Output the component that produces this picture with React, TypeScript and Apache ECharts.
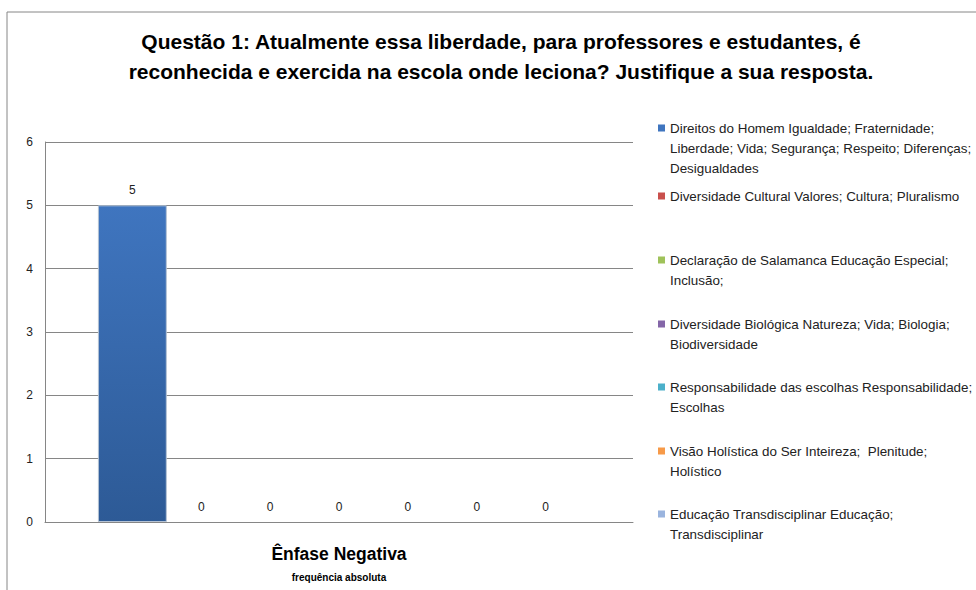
import React, { useEffect, useRef } from "react";
import * as echarts from "echarts";

const TITLE_LINES = [
  "Questão 1: Atualmente essa liberdade, para professores e estudantes, é",
  "reconhecida e exercida na escola onde leciona? Justifique a sua resposta.",
];
const CATEGORIES = ["Ênfase Negativa"];
const X_AXIS_NAME = "frequência absoluta";
const SERIES_NAMES = [
  "Direitos do Homem Igualdade; Fraternidade; Liberdade; Vida; Segurança; Respeito; Diferenças; Desigualdades",
  "Diversidade Cultural Valores; Cultura; Pluralismo",
  "Declaração de Salamanca Educação Especial; Inclusão;",
  "Diversidade Biológica Natureza; Vida; Biologia; Biodiversidade",
  "Responsabilidade das escolhas Responsabilidade; Escolhas",
  "Visão Holística do Ser Inteireza;  Plenitude; Holístico",
  "Educação Transdisciplinar Educação; Transdisciplinar",
];
const LEGEND_LINES = [
  ["Direitos do Homem Igualdade; Fraternidade;", "Liberdade; Vida; Segurança; Respeito; Diferenças;", "Desigualdades"],
  ["Diversidade Cultural Valores; Cultura; Pluralismo"],
  ["Declaração de Salamanca Educação Especial;", "Inclusão;"],
  ["Diversidade Biológica Natureza; Vida; Biologia;", "Biodiversidade"],
  ["Responsabilidade das escolhas Responsabilidade;", "Escolhas"],
  ["Visão Holística do Ser Inteireza;  Plenitude;", "Holístico"],
  ["Educação Transdisciplinar Educação;", "Transdisciplinar"],
];
const SERIES_VALUES = [5, 0, 0, 0, 0, 0, 0];
const Y_MIN = 0;
const Y_MAX = 6;
const Y_INTERVAL = 1;

const COLORS = [
  ["#3f75bf", "#2d5a96"],
  ["#c9504c", "#9c2f2c"],
  ["#9fc25a", "#76963a"],
  ["#8466a8", "#5f4680"],
  ["#4cb0ca", "#2d8aa2"],
  ["#f79a48", "#d06f1e"],
  ["#9ab4de", "#7090c4"],
];

const FONT = "'Liberation Sans', Arial, sans-serif";
const LEGEND_CENTERS = [128, 196, 260, 324, 387, 451, 514];
const LINE_H = 20;

export default function App() {
  const ref = useRef<HTMLDivElement>(null);
  useEffect(() => {
    if (!ref.current) return;
    const chart = echarts.init(ref.current, undefined, { renderer: "svg" });
    const series = SERIES_NAMES.map((name, i) => ({
      name,
      type: "bar",
      data: [SERIES_VALUES[i]],
      barGap: "0%",
      barCategoryGap: "18%",
      itemStyle: {
        color: new echarts.graphic.LinearGradient(0, 0, 0, 1, [
          { offset: 0, color: COLORS[i][0] },
          { offset: 1, color: COLORS[i][1] },
        ]),
        borderColor: "#b4c2d4",
        borderWidth: SERIES_VALUES[i] > 0 ? 1 : 0,
      },
      label: {
        show: true,
        position: "top",
        distance: 9,
        color: "#222",
        fontSize: 12,
        fontFamily: FONT,
      },
    }));
    const legends = SERIES_NAMES.map((name, i) => {
      const n = LEGEND_LINES[i].length;
      const h = 7 + LINE_H * (n - 1);
      const icon = `path://M0,0L7,0L7,7L0,7Z M0,${h}L7,${h}`;
      return {
        data: [
          {
            name,
            icon,
            itemStyle: { color: COLORS[i][0], borderWidth: 0, borderColor: "transparent" },
          },
        ],
        orient: "vertical",
        left: 658,
        top: LEGEND_CENTERS[i] - 10,
        padding: 0,
        itemWidth: 7,
        itemHeight: h,
        itemGap: 0,
        symbolKeepAspect: false,
        selectedMode: false,
        formatter: () => LEGEND_LINES[i].join("\n"),
        textStyle: {
          fontSize: 13.4,
          lineHeight: LINE_H,
          color: "#222",
          fontFamily: FONT,
        },
      };
    });
    chart.setOption({
      animation: false,
      backgroundColor: "#ffffff",
      title: {
        text: TITLE_LINES.join("\n"),
        left: 496,
        textAlign: "center",
        top: 21,
        textStyle: {
          fontSize: 21,
          lineHeight: 30,
          fontWeight: "bold",
          color: "#000",
          fontFamily: FONT,
        },
      },
      legend: legends,
      grid: { left: 45, top: 142, width: 588, height: 380, containLabel: false },
      xAxis: {
        type: "category",
        data: CATEGORIES,
        name: X_AXIS_NAME,
        nameLocation: "middle",
        nameGap: 50,
        nameTextStyle: { fontSize: 10, fontWeight: "bold", color: "#000", fontFamily: FONT },
        axisLine: { show: true, lineStyle: { color: "#868686" } },
        axisTick: { show: false },
        axisLabel: {
          margin: 23,
          fontSize: 17.5,
          fontWeight: "bold",
          color: "#000",
          fontFamily: FONT,
        },
      },
      yAxis: {
        type: "value",
        min: Y_MIN,
        max: Y_MAX,
        interval: Y_INTERVAL,
        axisLine: { show: true, lineStyle: { color: "#868686" } },
        axisTick: { show: false },
        axisLabel: { margin: 12, fontSize: 12, color: "#222", fontFamily: FONT },
        splitLine: { show: true, lineStyle: { color: "#868686" } },
      },
      graphic: [
        {
          type: "rect",
          shape: { x: 7, y: 12, width: 1100, height: 700 },
          style: { fill: "none", stroke: "#868686", lineWidth: 1 },
          silent: true,
          z: -1,
        },
      ],
      series,
    });
    return () => chart.dispose();
  }, []);
  return (
    <div
      ref={ref}
      style={{ position: "fixed", left: 0, top: 0, width: 976, height: 590 }}
    />
  );
}
